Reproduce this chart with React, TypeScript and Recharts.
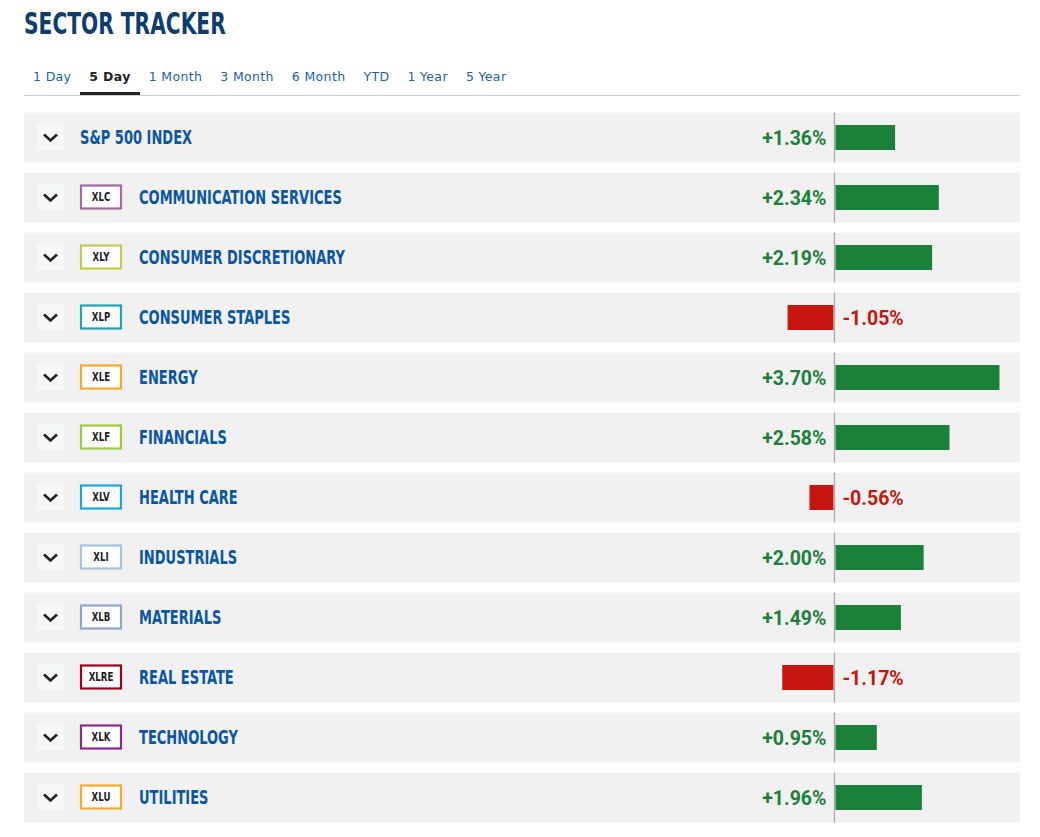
import React from "react";
import { BarChart, Bar, XAxis, YAxis, LabelList } from "recharts";

const sectors = [
  "S&P 500 INDEX",
  "COMMUNICATION SERVICES",
  "CONSUMER DISCRETIONARY",
  "CONSUMER STAPLES",
  "ENERGY",
  "FINANCIALS",
  "HEALTH CARE",
  "INDUSTRIALS",
  "MATERIALS",
  "REAL ESTATE",
  "TECHNOLOGY",
  "UTILITIES",
];
const tickers = ["", "XLC", "XLY", "XLP", "XLE", "XLF", "XLV", "XLI", "XLB", "XLRE", "XLK", "XLU"];
const tickerColors = [
  "",
  "#a868a8",
  "#c9c84a",
  "#1aa6b8",
  "#f9a828",
  "#9ecb3c",
  "#16a8e0",
  "#a4c4e0",
  "#8ca5cc",
  "#a3001e",
  "#8b2a8e",
  "#f9a828",
];
const changes = [1.36, 2.34, 2.19, -1.05, 3.7, 2.58, -0.56, 2.0, 1.49, -1.17, 0.95, 1.96];
const periods = ["1 Day", "5 Day", "1 Month", "3 Month", "6 Month", "YTD", "1 Year", "5 Year"];
const activePeriod = "5 Day";

const data = sectors.map((name, i) => ({ name, change: changes[i] }));

const GREEN = "#1b8039";
const RED = "#c8150e";
const NAME_BLUE = "#0b56a4";
// no narrow font installed, so the condensed look is faked with a horizontal squeeze
const CONDENSED = "'DejaVu Sans Condensed', 'DejaVu Sans', sans-serif";

// row plate behind each bar (bar band is 60px, plate is 50px)
function RowBackground(props: any) {
  const { x, y, width, height } = props;
  const cy = y + height / 2;
  return <rect x={x} y={cy - 25} width={width} height={50} fill="#f1f1f1" />;
}

function ChangeBar(props: any) {
  const { x, y, width, height, payload } = props;
  const left = Math.min(x, x + width);
  const w = Math.abs(width);
  const neg = payload.change < 0;
  const zero = neg ? left + w : left;
  const cy = y + height / 2;
  return (
    <g>
      <line x1={zero} x2={zero} y1={cy - 25} y2={cy + 25} stroke="#a8a8a8" strokeWidth={1.2} />
      <rect x={neg ? left : left + 1} y={y} width={Math.max(w - 1, 0)} height={height} fill={neg ? RED : GREEN} />
    </g>
  );
}

function ChangeLabel(props: any) {
  const { x, y, width, height, value } = props;
  const neg = value < 0;
  const zero = neg ? Math.max(x, x + width) : Math.min(x, x + width);
  const text = (neg ? "" : "+") + value.toFixed(2) + "%";
  return (
    <text
      x={neg ? zero + 8 : zero - 8}
      y={y + height / 2}
      dy={7}
      textAnchor={neg ? "start" : "end"}
      fill={neg ? RED : GREEN}
      fontFamily="Roboto, sans-serif"
      fontWeight={700}
      fontSize={19.5}
    >
      {text}
    </text>
  );
}

function SectorTick(props: any) {
  const { y, payload } = props;
  const i = payload.index;
  const ticker = tickers[i];
  const nameX = ticker ? 139 : 80;
  return (
    <g>
      <rect x={37} y={y - 13} width={27} height={26} fill="#f6f7f7" />
      <polyline
        points={`${44},${y - 2.5} ${50.5},${y + 3.5} ${57},${y - 2.5}`}
        fill="none"
        stroke="#222"
        strokeWidth={2.6}
      />
      {ticker && (
        <g>
          <rect x={81} y={y - 11.5} width={40} height={23} fill="#fff" stroke={tickerColors[i]} strokeWidth={2.2} />
          <g transform={`translate(101,${y + 4}) scale(0.8,1)`}>
            <text textAnchor="middle" fontFamily={CONDENSED} fontWeight={700} fontSize={12} fill="#222">
              {ticker}
            </text>
          </g>
        </g>
      )}
      <g transform={`translate(${nameX},${y + 7}) scale(0.725,1)`}>
        <text fontFamily={CONDENSED} fontWeight={700} fontSize={20} fill={NAME_BLUE}>
          {payload.value}
        </text>
      </g>
    </g>
  );
}

export default function App() {
  return (
    <div style={{ position: "absolute", left: 0, top: 0, width: 1040, height: 837, background: "#fff" }}>
      <div
        style={{
          position: "absolute",
          left: 24,
          top: 4,
          fontFamily: CONDENSED,
          fontWeight: 700,
          fontSize: 31,
          color: "#0d3c6e",
          lineHeight: "38px",
          whiteSpace: "nowrap",
          transform: "scaleX(0.725)",
          transformOrigin: "left center",
        }}
      >
        SECTOR TRACKER
      </div>
      <div
        style={{
          position: "absolute",
          left: 24,
          top: 64,
          width: 996,
          height: 31,
          borderBottom: "1px solid #cccccc",
          whiteSpace: "nowrap",
        }}
      >
        {periods.map((p) => {
          const active = p === activePeriod;
          return (
            <span
              key={p}
              style={{
                display: "inline-block",
                padding: "0 9px",
                height: 28,
                lineHeight: "26px",
                fontFamily: "'DejaVu Sans', sans-serif",
                fontSize: 12.5,
                letterSpacing: 0.35,
                fontWeight: active ? 600 : 400,
                color: active ? "#222" : "#1a5fa8",
                borderBottom: active ? "3px solid #222" : "3px solid transparent",
              }}
            >
              {p}
            </span>
          );
        })}
      </div>
      <div style={{ position: "absolute", left: 0, top: 0 }}>
        <BarChart
          width={1040}
          height={837}
          layout="vertical"
          data={data}
          margin={{ top: 107, right: 20, bottom: 10, left: 0 }}
        >
          <XAxis type="number" domain={[-18.17, 4.16]} allowDataOverflow hide />
          <Bar
            dataKey="change"
            barSize={25}
            isAnimationActive={false}
            background={<RowBackground />}
            shape={<ChangeBar />}
          >
            <LabelList dataKey="change" content={<ChangeLabel />} />
          </Bar>
          <YAxis
            type="category"
            dataKey="name"
            width={24}
            axisLine={false}
            tickLine={false}
            interval={0}
            tick={<SectorTick />}
          />
        </BarChart>
      </div>
    </div>
  );
}
